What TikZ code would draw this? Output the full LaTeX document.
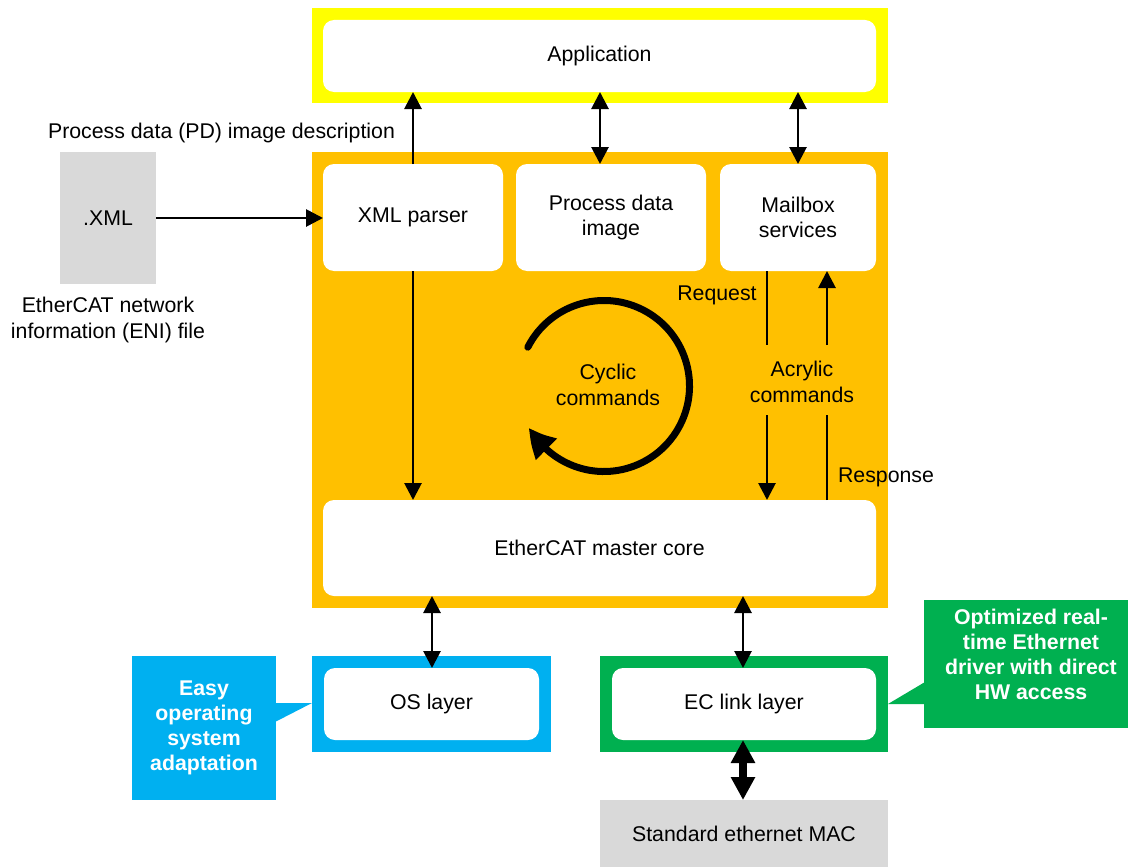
\documentclass[tikz,border=0pt]{standalone}
\usepackage{fontspec}
\setmainfont{Liberation Sans}
\usetikzlibrary{arrows.meta,bending,calc}
\definecolor{cyel}{HTML}{FFFF00}
\definecolor{corange}{HTML}{FFC000}
\definecolor{cblue}{HTML}{00B0F0}
\definecolor{cgreen}{HTML}{00B050}
\definecolor{cgray}{HTML}{D9D9D9}
\begin{document}
\begin{tikzpicture}[x=1pt,y=1pt,font=\fontsize{21.3}{25.5}\selectfont]
\tikzset{
 frm/.style={inner sep=0pt,outer sep=0pt},
 wbox/.style={fill=white,rounded corners=11pt,inner sep=0pt,outer sep=0pt,align=center},
 gbox/.style={fill=cgray,inner sep=0pt,outer sep=0pt,align=center},
 lbl/.style={inner sep=0pt,align=center},
 callout/.style={inner sep=0pt,outer sep=0pt,align=center,text=white,font=\fontsize{21.3}{25}\selectfont\bfseries},
 arr/.style={line width=2.8pt,-{Triangle[length=17pt,width=17pt]}},
 darr/.style={line width=2.8pt,{Triangle[length=17pt,width=17pt]}-{Triangle[length=17pt,width=17pt]}},
 bigdarr/.style={line width=8pt,{Triangle[length=23pt,width=23pt]}-{Triangle[length=23pt,width=23pt]}},
 ln/.style={line width=2.8pt}
}
\useasboundingbox (0,0) rectangle (1130,-867);
% frames
\node[frm,fill=cyel,minimum width=576pt,minimum height=95pt] (yel) at (600,-55.5) {};
\node[frm,fill=corange,minimum width=576pt,minimum height=456pt] (orng) at (600,-380) {};
\node[frm,fill=cblue,minimum width=239pt,minimum height=96pt] (bfr) at (431.5,-704) {};
\node[frm,fill=cgreen,minimum width=288pt,minimum height=96pt] (gfr) at (744,-704) {};
% boxes
\node[wbox,minimum width=553pt,minimum height=72pt] (app) at (599.5,-56) {Application};
\node[wbox,minimum width=180pt,minimum height=107pt] (xmlp) at (413,-217.5) {XML parser};
\node[wbox,minimum width=190pt,minimum height=107pt] (pdi) at (611,-217.5) {Process data\\image};
\node[wbox,minimum width=156pt,minimum height=107pt] (mbs) at (798,-217.5) {Mailbox\\services};
\node[wbox,minimum width=553pt,minimum height=96pt] (core) at (599.5,-548) {EtherCAT master core};
\node[gbox,minimum width=96pt,minimum height=132pt] (xml) at (108,-218) {.XML};
\node[wbox,minimum width=215pt,minimum height=72pt] (os) at (431.5,-704) {OS layer};
\node[wbox,minimum width=264pt,minimum height=72pt] (ec) at (744,-704) {EC link layer};
\node[gbox,minimum width=288pt,minimum height=67pt] (mac) at (744,-833.5) {Standard ethernet MAC};
% callouts
\node[frm,fill=cblue,minimum width=144pt,minimum height=144pt] (bcall) at (204,-728) {};
\fill[cblue] (275,-703) -- (312,-703) -- (275,-722) -- cycle;
\node[callout] (btxt) at (204,-727.5) {Easy\\operating\\system\\adaptation};
\node[frm,fill=cgreen,minimum width=204pt,minimum height=128pt] (gcall) at (1026,-664) {};
\fill[cgreen] (925,-682) -- (888,-704) -- (925,-704) -- cycle;
\node[callout] (gtxt) at (1031,-654.5) {Optimized real-\\time Ethernet\\driver with direct\\HW access};
% labels
\node[lbl] (pdd) at (221.5,-133) {Process data (PD) image description};
\node[lbl] (eni) at (108,-320) {EtherCAT network\\information (ENI) file};
\node[lbl] (req) at (717,-295) {Request};
\node[lbl] (acy) at (802,-382) {Acrylic\\commands};
\node[lbl] (resp) at (886,-477) {Response};
\node[lbl] (cyc) at (608,-385) {Cyclic\\commands};
% coordinates
\coordinate (x600) at (600,0);
\coordinate (x432) at (432,0);
\coordinate (x743) at (743,0);
\coordinate (rqa) at (767,-345);
\coordinate (rqb) at (767,-415);
\coordinate (rsa) at (827,-415);
\coordinate (rsb) at (827,-345);
\coordinate (cc) at (604,-386);
% connectors
\draw[arr] (xmlp.north) -- (xmlp.north |- app.south);
\draw[darr] (app.south -| x600) -- (pdi.north -| x600);
\draw[darr] (app.south -| mbs.north) -- (mbs.north);
\draw[arr] (xml.east) -- (xml.east -| xmlp.west);
\draw[arr] (xmlp.south) -- (xmlp.south |- core.north);
\draw[ln] (mbs.south -| rqa) -- (rqa);
\draw[arr] (rqb) -- (rqb |- core.north);
\draw[ln] (core.north -| rsa) -- (rsa);
\draw[arr] (rsb) -- (rsb |- mbs.south);
\draw[darr] (core.south -| x432) -- (os.north -| x432);
\draw[darr] (core.south -| x743) -- (ec.north -| x743);
\draw[bigdarr] (ec.south -| x743) -- (mac.north -| x743);
% cyclic arc
\draw[line width=7pt,line cap=round,-{Triangle[length=28pt,width=28pt,bend]}] ($(cc)+(153:85.5)$) arc[start angle=153,end angle=-151,radius=85.5];
\end{tikzpicture}
\end{document}
